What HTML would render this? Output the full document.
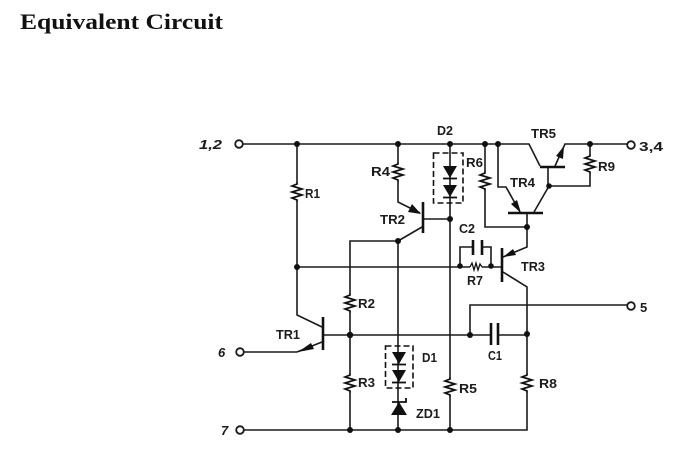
<!DOCTYPE html>
<html><head><meta charset="utf-8"><style>
html,body{margin:0;padding:0;background:#fff;width:684px;height:471px;overflow:hidden}
svg{display:block}
text{font-family:"Liberation Sans",sans-serif;font-size:13px;font-weight:bold;fill:#1c1c1c}
.i{font-style:italic}
</style></head><body>
<svg width="684" height="471" viewBox="0 0 684 471" xmlns="http://www.w3.org/2000/svg">
<defs>
<g id="res"><path d="M0,-10 L0,-8 L-5,-6 L5,-3 L-5,0 L5,3 L-5,6 L0,8 L0,10" fill="none" stroke="#111" stroke-width="1.7"/></g>
<g id="dio"><path d="M-7,0 L7,0 L0,12 Z" fill="#111"/><path d="M-7,12.5 L7,12.5" stroke="#111" stroke-width="1.8"/></g>
</defs>
<text x="20" y="29" textLength="203" lengthAdjust="spacingAndGlyphs" style="font-family:'Liberation Serif',serif;font-size:22px;font-weight:bold;fill:#111">Equivalent Circuit</text>

<g fill="none" stroke="#1a1a1a" stroke-width="1.6">
<path d="M243,144 H529 L540,166"/>
<path d="M555,166 L565,144 H627"/>
<path d="M243,430 H527 V287 L503,272"/>
<path d="M243,352 H297"/>
<path d="M297,144 V315 L322,327"/>
<path d="M322,342 L297,352"/>
<path d="M323,335 H491 M498,335 H527"/>
<path d="M470,335 V305 H627"/>
<path d="M297,267 H502"/>
<path d="M460,266 V247 H473 M482,247 H491 V266"/>
<path d="M350,430 V241 H398"/>
<path d="M398,144 V202 L420,213"/>
<path d="M422,227 L398,241 V430"/>
<path d="M423,219 H450"/>
<path d="M450,144 V430"/>
<path d="M485,144 V227 H527"/>
<path d="M498,144 V187 H506 L520,212"/>
<path d="M549,186 L534,212"/>
<path d="M527,213 V247 L503,257"/>
<path d="M548,167 V186 H590 V144"/>
</g>

<g fill="#fff">
<rect x="294" y="182" width="6" height="20"/>
<rect x="395" y="162" width="6" height="20"/>
<rect x="347" y="293" width="6" height="20"/>
<rect x="347" y="373" width="6" height="20"/>
<rect x="447" y="377" width="6" height="20"/>
<rect x="524" y="373" width="6" height="20"/>
<rect x="482" y="171" width="6" height="20"/>
<rect x="587" y="154" width="6" height="20"/>
<rect x="470" y="263" width="12" height="7"/>
</g>
<use href="#res" x="297" y="192"/>
<use href="#res" x="398" y="172"/>
<use href="#res" x="350" y="303"/>
<use href="#res" x="350" y="383"/>
<use href="#res" x="450" y="387"/>
<use href="#res" x="527" y="383"/>
<use href="#res" x="485" y="181"/>
<use href="#res" x="590" y="164"/>
<path d="M470,267 L472,263 L474,270 L476,263 L478,270 L480,264 L482,267" fill="none" stroke="#111" stroke-width="1.3"/>

<g stroke="#111" stroke-width="2.6" fill="none">
<path d="M323,317 V350"/>
<path d="M423,202 V233"/>
<path d="M502,248 V282"/>
<path d="M508,213 H543"/>
<path d="M540,167 H565"/>
<path d="M473,240 V255 M482,240 V255"/>
<path d="M491,323 V345 M498,323 V345"/>
</g>

<g fill="#111">
<path d="M421,214 L408,212 L412,204 Z"/>
<path d="M298,352 L311,343 L314,349 Z"/>
<path d="M521,213 L511,204 L517,200 Z"/>
<path d="M503,257 L513,249 L516,255 Z"/>
<path d="M564,146 L563,159 L556,156 Z"/>
</g>

<use href="#dio" x="450" y="166"/>
<use href="#dio" x="450" y="185"/>
<use href="#dio" x="399" y="352"/>
<use href="#dio" x="399" y="370"/>
<path d="M399,402 L407,415 H391 Z" fill="#111"/>
<path d="M392,402 H406 V398" fill="none" stroke="#111" stroke-width="1.8"/>

<g fill="none" stroke="#111" stroke-width="1.6" stroke-dasharray="6 3">
<rect x="433.500" y="153" width="29.500" height="50"/>
<rect x="385.500" y="346" width="27.500" height="42"/>
</g>

<g fill="#fff" stroke="#1a1a1a" stroke-width="1.8">
<circle cx="239" cy="144" r="3.800"/>
<circle cx="631" cy="145" r="3.800"/>
<circle cx="631" cy="306" r="3.800"/>
<circle cx="240" cy="352" r="3.800"/>
<circle cx="240" cy="430" r="3.800"/>
</g>

<g fill="#111">
<circle cx="297" cy="144" r="3"/><circle cx="398" cy="144" r="3"/><circle cx="450" cy="144" r="3"/>
<circle cx="485" cy="144" r="3"/><circle cx="498" cy="144" r="3"/><circle cx="590" cy="144" r="3"/>
<circle cx="549" cy="186" r="2.800"/><circle cx="527" cy="227" r="3"/><circle cx="450" cy="219" r="3"/>
<circle cx="398" cy="241" r="3"/><circle cx="297" cy="267" r="3"/><circle cx="460" cy="266" r="2.800"/>
<circle cx="491" cy="266" r="2.800"/><circle cx="350" cy="335" r="3.200"/><circle cx="470" cy="335" r="3"/>
<circle cx="527" cy="334" r="3"/><circle cx="350" cy="430" r="3"/><circle cx="398" cy="430" r="3"/>
<circle cx="450" cy="430" r="3"/>
</g>

<g lengthAdjust="spacingAndGlyphs">
<text class="i" x="199" y="149" textLength="23" lengthAdjust="spacingAndGlyphs">1,2</text>
<text x="305" y="198" textLength="15" lengthAdjust="spacingAndGlyphs">R1</text>
<text x="371" y="176" textLength="19" lengthAdjust="spacingAndGlyphs">R4</text>
<text x="380" y="224" textLength="25" lengthAdjust="spacingAndGlyphs">TR2</text>
<text x="437" y="135" textLength="16" lengthAdjust="spacingAndGlyphs">D2</text>
<text x="466" y="167" textLength="17" lengthAdjust="spacingAndGlyphs">R6</text>
<text x="531" y="138" textLength="25" lengthAdjust="spacingAndGlyphs">TR5</text>
<text x="510" y="187" textLength="25" lengthAdjust="spacingAndGlyphs">TR4</text>
<text x="598" y="171" textLength="17" lengthAdjust="spacingAndGlyphs">R9</text>
<text x="639" y="151" textLength="24" lengthAdjust="spacingAndGlyphs">3,4</text>
<text x="459" y="233" textLength="16" lengthAdjust="spacingAndGlyphs">C2</text>
<text x="521" y="271" textLength="24" lengthAdjust="spacingAndGlyphs">TR3</text>
<text x="467" y="285" textLength="16" lengthAdjust="spacingAndGlyphs">R7</text>
<text x="640" y="312">5</text>
<text x="358" y="308" textLength="17" lengthAdjust="spacingAndGlyphs">R2</text>
<text x="276" y="339" textLength="24" lengthAdjust="spacingAndGlyphs">TR1</text>
<text class="i" x="218" y="357">6</text>
<text x="422" y="362" textLength="15" lengthAdjust="spacingAndGlyphs">D1</text>
<text x="358" y="387" textLength="17" lengthAdjust="spacingAndGlyphs">R3</text>
<text x="416" y="418" textLength="24" lengthAdjust="spacingAndGlyphs">ZD1</text>
<text class="i" x="221" y="435">7</text>
<text x="488" y="360" textLength="14" lengthAdjust="spacingAndGlyphs">C1</text>
<text x="459" y="393" textLength="18" lengthAdjust="spacingAndGlyphs">R5</text>
<text x="539" y="388" textLength="18" lengthAdjust="spacingAndGlyphs">R8</text>
</g>
</svg>
</body></html>
